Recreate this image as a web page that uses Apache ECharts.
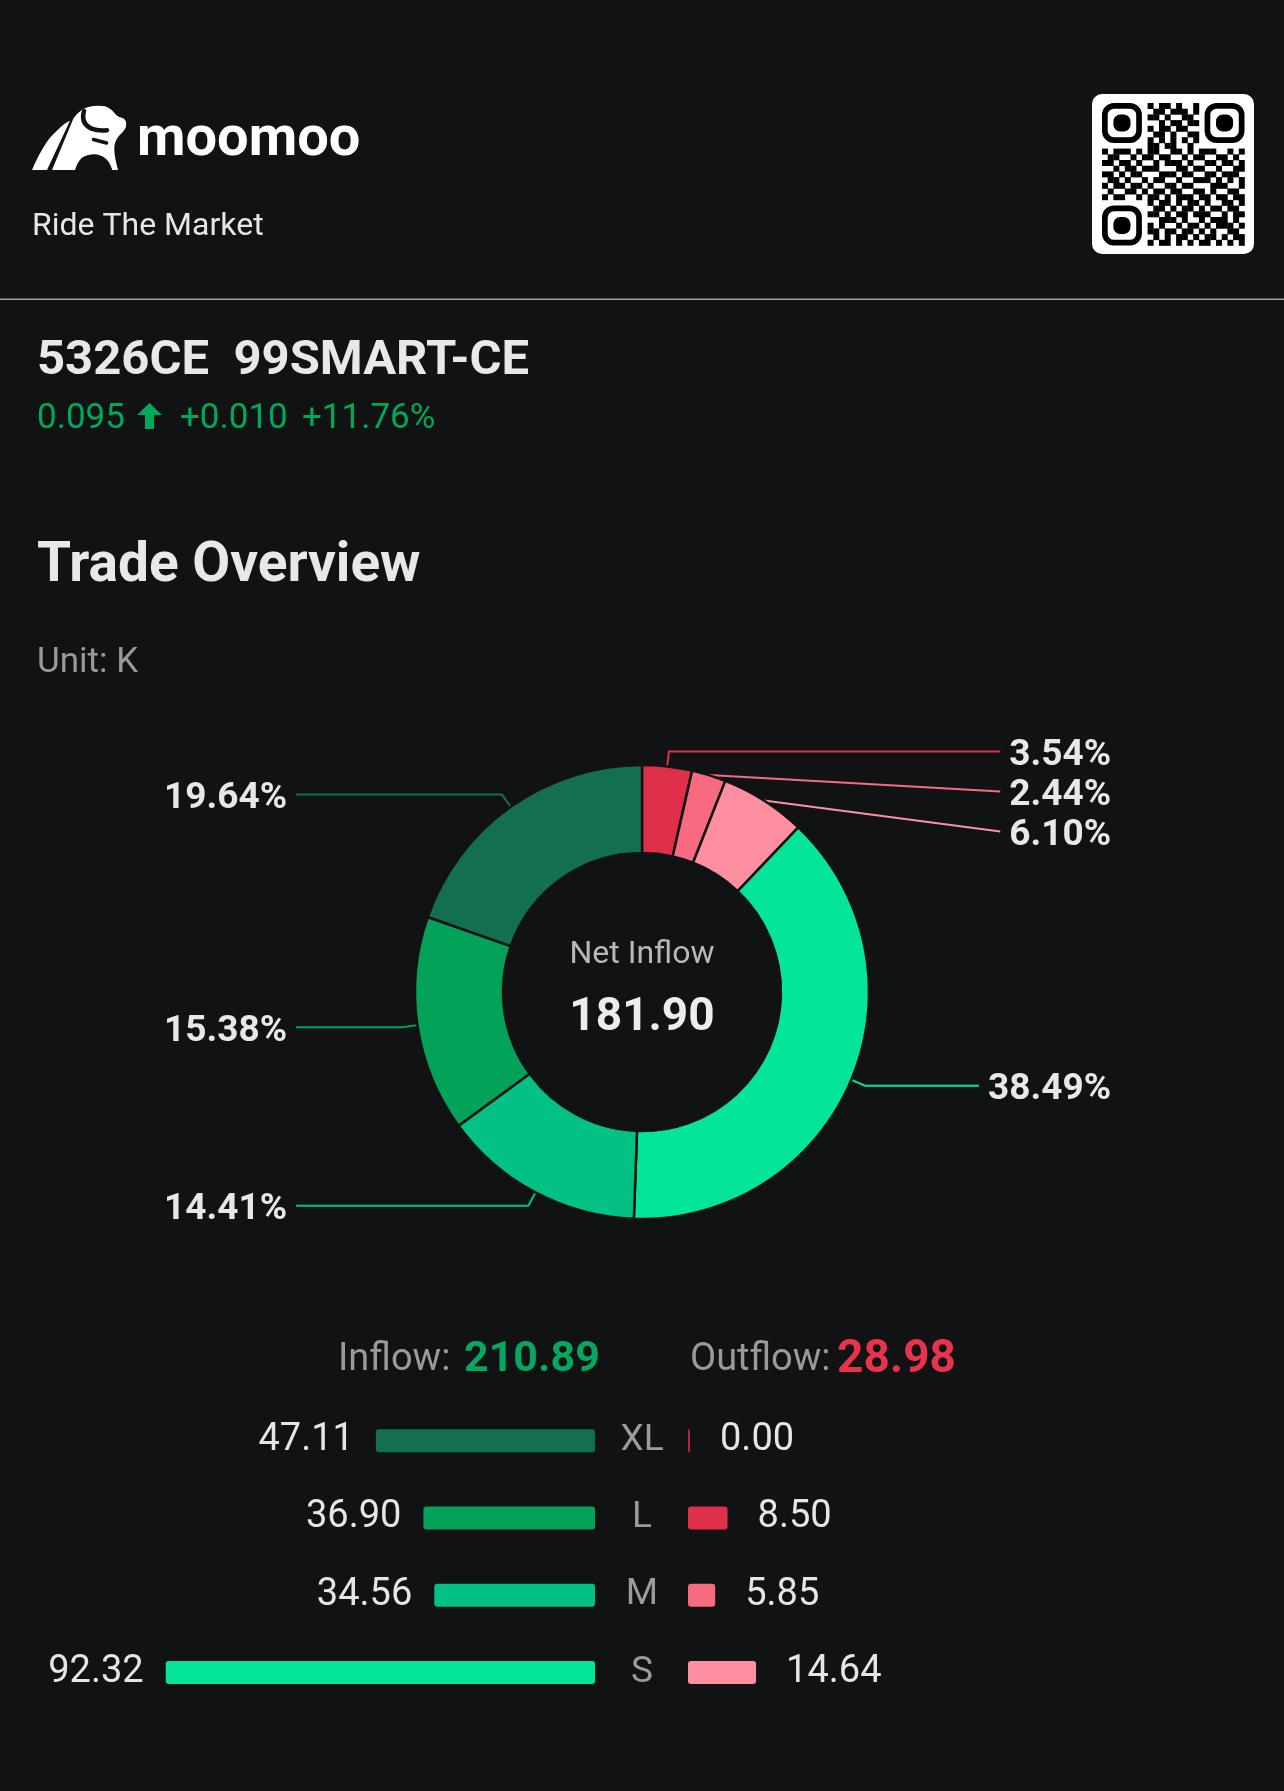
<!DOCTYPE html>
<html>
<head>
<meta charset="utf-8">
<script src="https://cdn.jsdelivr.net/npm/echarts@6/dist/echarts.min.js"></script>
<style>
html,body{margin:0;padding:0;background:#111214;}
#chart{width:1284px;height:1791px;}
</style>
</head>
<body>
<div id="chart"></div>
<script>
// ---- data ----
const categories = ['XL', 'L', 'M', 'S'];
const inflow = [47.11, 36.90, 34.56, 92.32];
const outflow = [0.00, 8.50, 5.85, 14.64];
const inColors = ['#136f4f', '#02a359', '#03c185', '#05e59a'];
const outColors = ['#b0243a', '#e02f4b', '#f86a80', '#fd8fa0'];
const inflowTotal = '210.89';
const outflowTotal = '28.98';
const netInflow = '181.90';
const ticker = '5326CE  99SMART-CE';
const price = '0.095';
const change = '+0.010';
const changePct = '+11.76%';

// QR decoration pattern
const qrFinder = ['1111111','1000001','1011101','1011101','1011101','1000001','1111111'];
const qrTop = ['101101001','011011101','110100110','001011011','101101100','011010011','101010101'];
const qrMid = [
  '0000000011011001000000000',
  '1011101011001101011100101',
  '0110010110110010110011010',
  '1101101001011101001101101',
  '0010110111000110110010011',
  '1101011000111011001101110',
  '0110100101100100111010101',
  '1011011010011011000111001',
  '0100110101101100110100110',
  '1011001011010111011011011',
  '0000000010110101101001101'
];
const qrBottom = ['01101011010110110','11010110111001011','00111010010111010','10100101101011101','11011011010100110','01010110101101011','10110101011010101'];

// ---- build ----
const BG = '#111214';
const FONT = 'Roboto';
const CX = 642, CY = 992;
const qrRows = [];
for (let i = 0; i < 7; i++) qrRows.push(qrFinder[i] + '0' + qrTop[i] + '0' + qrFinder[i]);
qrMid.forEach(r => qrRows.push(r));
for (let i = 0; i < 7; i++) qrRows.push(qrFinder[i] + '0' + qrBottom[i]);

const pieData = [];
for (let i = 0; i < categories.length; i++) {
  pieData.push({ name: categories[i] + ' Outflow', value: outflow[i], itemStyle: { color: outColors[i] } });
}
for (let i = categories.length - 1; i >= 0; i--) {
  pieData.push({ name: categories[i] + ' Inflow', value: inflow[i], itemStyle: { color: inColors[i] } });
}

function txt(x, y, text, size, weight, color, align) {
  return {
    type: 'text', x: x, y: y, silent: true,
    style: {
      text: text, fill: color, font: weight + ' ' + size + 'px ' + FONT,
      textAlign: align || 'left', align: align || 'left',
      textVerticalAlign: 'middle', verticalAlign: 'middle'
    }
  };
}

const logoSvg = '<svg xmlns="http://www.w3.org/2000/svg" width="140" height="180" viewBox="0 0 140 180">' +
  '<path fill="#ffffff" d="M32,170 C36,160 41,151 46,143.3 C50,137 54,133 58,129.7 C62,125.5 66,122.5 70,120.7 L47,170 Z"/>' +
  '<path fill="#ffffff" d="M73.3,118.7 C78,112 83,108.5 88.3,107 C94,105.5 100,105.5 105,106.3 C109,107.5 112,110 115,113.7 C117,116 119.5,117.5 121.7,117.7 C123.5,118 125.5,120 126,122 C126.5,124.5 126,127.5 125,129 C123,132.5 120,134.5 118.3,136.7 C115.5,140 114,145 114.3,150 C114.5,156 116,162 118,170 L112.3,170 C110.5,164 108,160 105,158 C101,155 97,154 93.3,154.3 C88.5,154.5 84.5,156 81.7,158 C78.5,161 76.5,165 75,170 L52,170 Z"/>' +
  '<path fill="none" stroke="#111214" stroke-width="4.5" stroke-linecap="round" d="M84,111 C82,118 83.5,125 91.7,128.7 C96,130.5 101,130.8 107,130.3"/>' +
  '<path fill="none" stroke="#111214" stroke-width="3.5" stroke-linecap="round" d="M93.5,139.5 L106.5,143"/>' +
  '</svg>';

const graphics = [];
graphics.push({ type: 'image', silent: true, style: { image: 'data:image/svg+xml;charset=utf-8,' + encodeURIComponent(logoSvg), x: 0, y: 0, width: 140, height: 180 } });
graphics.push(txt(137, 141, 'moomoo', 56, 700, '#ffffff'));
graphics.push(txt(32, 227, 'Ride The Market', 32, 400, '#e6e6e6'));
// QR
graphics.push({ type: 'rect', silent: true, shape: { x: 1092, y: 94, width: 162, height: 160, r: 10 }, style: { fill: '#ffffff' } });
const qm = 5.7, qx = 1102, qy = 103;
for (let r = 0; r < qrRows.length; r++) {
  for (let c = 0; c < qrRows[r].length; c++) {
    const inFinder = (r < 7 && c < 7) || (r < 7 && c > 17) || (r > 17 && c < 7);
    if (inFinder || qrRows[r][c] !== '1') continue;
    graphics.push({ type: 'rect', silent: true, shape: { x: qx + c * qm, y: qy + r * qm, width: qm + 0.3, height: qm + 0.3 }, style: { fill: '#000' } });
  }
}
[[0, 0], [0, 18], [18, 0]].forEach(p => {
  const x = qx + p[1] * qm, y = qy + p[0] * qm;
  graphics.push({ type: 'rect', silent: true, shape: { x: x + qm / 2, y: y + qm / 2, width: qm * 6, height: qm * 6, r: qm * 1.6 }, style: { fill: null, stroke: '#000', lineWidth: qm } });
  graphics.push({ type: 'rect', silent: true, shape: { x: x + qm * 2, y: y + qm * 2, width: qm * 3, height: qm * 3, r: qm * 1.2 }, style: { fill: '#000' } });
});
// divider
graphics.push({ type: 'rect', silent: true, shape: { x: 0, y: 298.5, width: 1284, height: 1.5 }, style: { fill: '#a0a0a0' } });
// ticker
graphics.push(txt(37, 362, ticker, 49, 700, '#e8e8ea'));
graphics.push(txt(37, 419, price, 35, 400, '#00a85a'));
graphics.push({ type: 'polygon', silent: true, shape: { points: [[137, 415], [149.5, 403], [162, 415], [154, 415], [154, 429], [145, 429], [145, 415]] }, style: { fill: '#00a85a' } });
graphics.push(txt(180, 419, change, 35, 400, '#00a85a'));
graphics.push(txt(302, 419, changePct, 35, 400, '#00a85a'));
// section
graphics.push(txt(37, 567, 'Trade Overview', 55, 700, '#e8e8ea'));
graphics.push(txt(37, 663, 'Unit: K', 35, 400, '#9a9a9a'));
// donut center
graphics.push(txt(642, 955, 'Net Inflow', 32, 400, '#b8b8b8', 'center'));
graphics.push(txt(642, 1018, netInflow, 46, 700, '#ececec', 'center'));
// inflow / outflow totals
graphics.push(txt(338, 1360, 'Inflow:', 38, 400, '#9a9a9a'));
graphics.push(txt(464, 1360, inflowTotal, 43, 700, '#05a85e'));
graphics.push(txt(690, 1360, 'Outflow:', 38, 400, '#9a9a9a'));
graphics.push(txt(837, 1360, outflowTotal, 46, 700, '#e8334f'));

const option = {
  backgroundColor: BG,
  animation: false,
  textStyle: { fontFamily: FONT },
  graphic: { elements: graphics },
  grid: [
    { left: 130, width: 465, top: 1402, height: 309 },
    { left: 688, width: 465, top: 1402, height: 309 }
  ],
  xAxis: [
    { gridIndex: 0, type: 'value', min: 0, max: 100, inverse: true, show: false },
    { gridIndex: 1, type: 'value', min: 0, max: 100, show: false }
  ],
  yAxis: [
    { gridIndex: 0, type: 'category', data: categories, inverse: true, show: false },
    { gridIndex: 1, type: 'category', data: categories, inverse: true,
      axisLine: { show: false }, axisTick: { show: false }, splitLine: { show: false },
      axisLabel: { color: '#9b9b9b', fontSize: 37, fontFamily: FONT, align: 'center', margin: 46 } }
  ],
  series: [
    {
      type: 'pie',
      left: 0, top: 0, width: 1275, height: 1791,
      center: [CX, CY],
      radius: [139, 227],
      startAngle: 90,
      clockwise: true,
      silent: true,
      minShowLabelAngle: 0.1,
      avoidLabelOverlap: true,
      itemStyle: { borderColor: BG, borderWidth: 2.5 },
      label: {
        show: true, position: 'outer', alignTo: 'edge', edgeDistance: 164,
        distanceToLabelLine: 9,
        color: '#e8e8e8', fontSize: 37, fontWeight: 700, fontFamily: FONT, lineHeight: 38,
        formatter: p => p.percent.toFixed(2) + '%'
      },
      labelLine: { show: true, length: 15, length2: 10, smooth: false, lineStyle: { width: 2 } },
      labelLayout: function (params) {
        const pts = params.labelLinePoints;
        if (!pts || pts.length < 3) return {};
        const p0 = pts[0], p1 = pts[1], p2 = pts[2];
        const vx = p0[0] - CX, vy = p0[1] - CY;
        const wx = p1[0] - p0[0], wy = p1[1] - p0[1];
        const lv = Math.hypot(vx, vy), lw = Math.hypot(wx, wy);
        let out = [[p0[0], p0[1]], [p1[0], p1[1]], [p2[0], p2[1]]];
        if (lw > 0 && lv > 0 && Math.abs(vx * wy - vy * wx) / (lv * lw) > 0.05) {
          // label was pushed away from its radial position: draw a straight leader
          out = [[p0[0], p0[1]], [p0[0], p0[1]], [p2[0], p2[1]]];
        }
        return { dy: 4, labelLinePoints: out };
      },
      emphasis: { disabled: true },
      data: pieData
    },
    {
      type: 'bar', xAxisIndex: 0, yAxisIndex: 0, barWidth: 23, silent: true,
      data: inflow.map((v, i) => ({ value: v, itemStyle: { color: inColors[i] } })),
      itemStyle: { borderRadius: 3 },
      label: { show: true, position: 'left', distance: 22, color: '#e6e6e6', fontSize: 38, fontFamily: FONT,
        formatter: p => p.value.toFixed(2) }
    },
    {
      type: 'bar', xAxisIndex: 1, yAxisIndex: 1, barWidth: 23, barMinHeight: 2, silent: true,
      data: outflow.map((v, i) => ({ value: v, itemStyle: { color: outColors[i] } })),
      itemStyle: { borderRadius: 3 },
      label: { show: true, position: 'right', distance: 30, color: '#e6e6e6', fontSize: 38, fontFamily: FONT,
        formatter: p => p.value.toFixed(2) }
    }
  ]
};
const chart = echarts.init(document.getElementById('chart'), null, { renderer: 'canvas' });
chart.setOption(option);
</script>
</body>
</html>
